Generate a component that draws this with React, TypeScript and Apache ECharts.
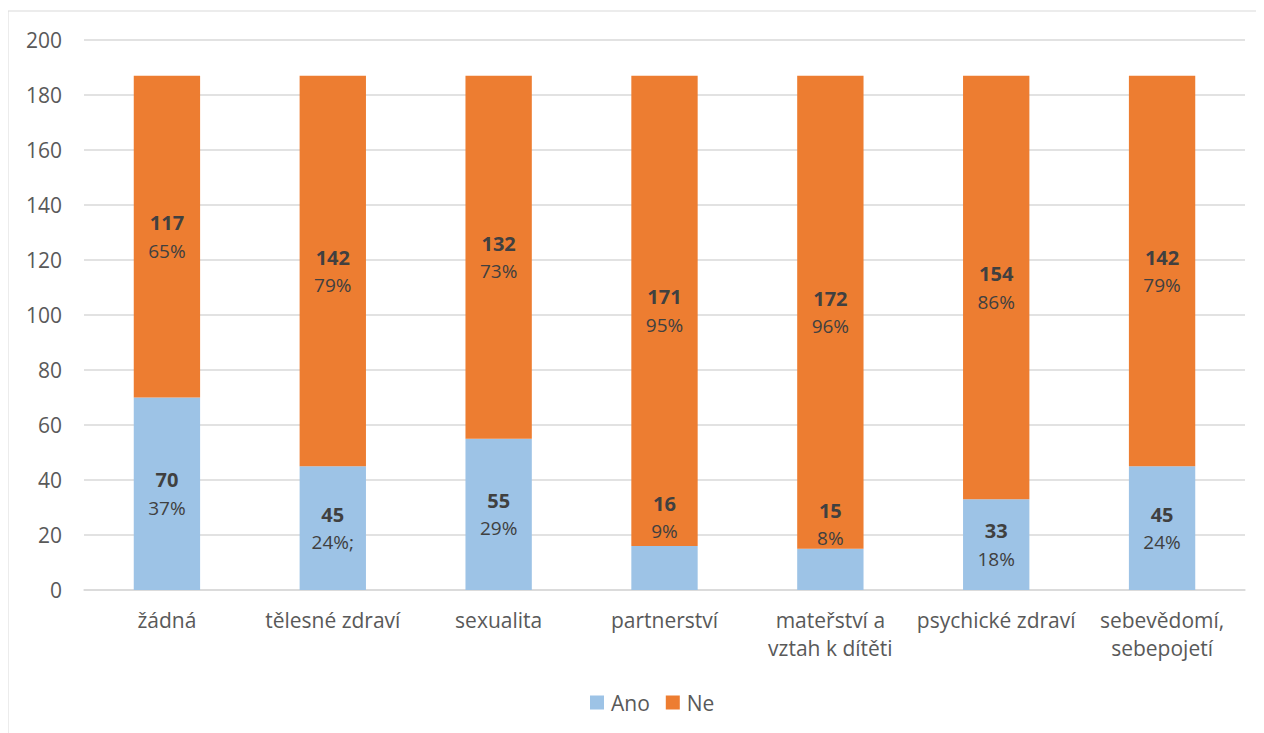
import React, { useEffect, useRef } from "react";
import * as echarts from "echarts";

const categories = [
  "žádná",
  "tělesné zdraví",
  "sexualita",
  "partnerství",
  "mateřství a\nvztah k dítěti",
  "psychické zdraví",
  "sebevědomí,\nsebepojetí",
];
const anoValues = [70, 45, 55, 16, 15, 33, 45];
const neValues = [117, 142, 132, 171, 172, 154, 142];
const anoPct = ["37%", "24%;", "29%", "9%", "8%", "18%", "24%"];
const nePct = ["65%", "79%", "73%", "95%", "96%", "86%", "79%"];
const yTicks = { min: 0, max: 200, interval: 20 };
// label offsets (px) for the manually moved labels of small bars
const anoLabelOffsetY = [0, 0, 0, -51, -45, 0, 0];

const FONT = "'Open Sans', 'Noto Sans', sans-serif";
const TXT = "#595959";
const LBL = "#404040";

export default function App() {
  const ref = useRef<HTMLDivElement>(null);
  useEffect(() => {
    if (!ref.current) return;
    const chart = echarts.init(ref.current, null, { renderer: "svg" });
    const rich = {
      v: { fontFamily: FONT, fontSize: 20, fontWeight: "bold", color: LBL, lineHeight: 28 },
      p: { fontFamily: FONT, fontSize: 19, color: LBL, lineHeight: 28 },
    };
    chart.setOption({
      animation: false,
      textStyle: { fontFamily: FONT },
      graphic: [
        {
          type: "rect",
          silent: true,
          shape: { x: 0, y: 3, width: 1300, height: 800 },
          style: { fill: "none", stroke: "#d9d9d9", lineWidth: 1 },
        },
      ],
      grid: { left: 76, right: 19, top: 32, bottom: 143, containLabel: false },
      legend: {
        top: 679,
        left: 577,
        itemWidth: 14,
        itemHeight: 14,
        itemGap: 16,
        icon: "rect",
        textStyle: { fontFamily: FONT, fontSize: 21, color: TXT, padding: [0, 0, 0, 2] },
        data: ["Ano", "Ne"],
      },
      xAxis: {
        type: "category",
        data: categories,
        axisLine: { show: true, lineStyle: { color: "#d9d9d9", width: 1.5 } },
        axisTick: { show: false },
        axisLabel: {
          interval: 0,
          margin: 16,
          fontFamily: FONT,
          fontSize: 21,
          color: TXT,
          lineHeight: 28,
        },
      },
      yAxis: {
        type: "value",
        min: yTicks.min,
        max: yTicks.max,
        interval: yTicks.interval,
        axisLine: { show: false },
        axisTick: { show: false },
        splitLine: { lineStyle: { color: "#d9d9d9", width: 1.5 } },
        axisLabel: { fontFamily: FONT, fontSize: 21, color: TXT, margin: 22 },
      },
      series: [
        {
          name: "Ano",
          type: "bar",
          stack: "total",
          barCategoryGap: "60%",
          itemStyle: { color: "#9DC3E6" },
          data: anoValues.map((v, i) => ({
            value: v,
            label: { offset: [0, anoLabelOffsetY[i]] },
          })),
          label: {
            show: true,
            position: "inside",
            formatter: (p: any) => `{v|${p.value}}\n{p|${anoPct[p.dataIndex]}}`,
            rich,
          },
        },
        {
          name: "Ne",
          type: "bar",
          stack: "total",
          barCategoryGap: "60%",
          itemStyle: { color: "#ED7D31" },
          data: neValues,
          label: {
            show: true,
            position: "inside",
            formatter: (p: any) => `{v|${p.value}}\n{p|${nePct[p.dataIndex]}}`,
            rich,
          },
        },
      ],
    });
    return () => chart.dispose();
  }, []);
  return <div ref={ref} style={{ width: 1256, height: 725 }} />;
}
